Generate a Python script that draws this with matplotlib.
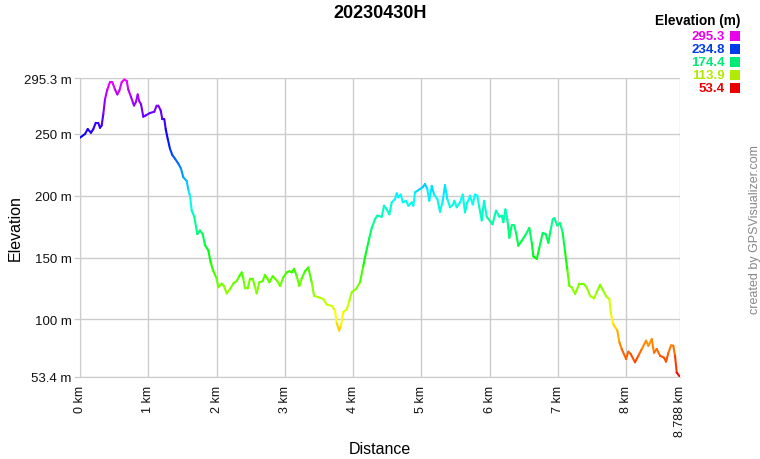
import numpy as np
import matplotlib
matplotlib.use("Agg")
import matplotlib.pyplot as plt
from matplotlib.collections import LineCollection
from matplotlib.colors import hsv_to_rgb

# distance along track (km) and elevation (m)
distance_km = [
    0.000, 0.073, 0.113, 0.161, 0.195, 0.230, 0.268, 0.293, 0.318, 0.341,
    0.366, 0.400, 0.439, 0.473, 0.513, 0.546, 0.576, 0.611, 0.649, 0.684,
    0.707, 0.747, 0.791, 0.820, 0.845, 0.864, 0.894, 0.927, 0.962, 1.025,
    1.088, 1.123, 1.147, 1.182, 1.206, 1.235, 1.255, 1.285, 1.318, 1.352,
    1.392, 1.440, 1.479, 1.513, 1.563, 1.586, 1.611, 1.636, 1.674, 1.718,
    1.758, 1.797, 1.831, 1.879, 1.914, 1.953, 2.002, 2.026, 2.076, 2.109,
    2.149, 2.197, 2.245, 2.295, 2.333, 2.369, 2.392, 2.417, 2.456, 2.490,
    2.530, 2.563, 2.588, 2.626, 2.676, 2.710, 2.744, 2.773, 2.823, 2.856,
    2.890, 2.930, 2.978, 3.028, 3.066, 3.101, 3.135, 3.174, 3.212, 3.247,
    3.296, 3.344, 3.394, 3.428, 3.491, 3.564, 3.614, 3.687, 3.735, 3.760,
    3.794, 3.823, 3.857, 3.907, 3.945, 3.980, 4.043, 4.101, 4.150, 4.189,
    4.238, 4.273, 4.321, 4.355, 4.419, 4.453, 4.493, 4.531, 4.566, 4.614,
    4.639, 4.662, 4.698, 4.727, 4.775, 4.809, 4.859, 4.882, 4.907, 4.941,
    4.980, 5.020, 5.053, 5.087, 5.116, 5.152, 5.185, 5.234, 5.273, 5.313,
    5.346, 5.380, 5.420, 5.459, 5.483, 5.518, 5.566, 5.606, 5.639, 5.673,
    5.713, 5.752, 5.786, 5.820, 5.844, 5.884, 5.918, 5.957, 6.042, 6.093,
    6.142, 6.177, 6.201, 6.230, 6.259, 6.288, 6.323, 6.361, 6.386, 6.420,
    6.470, 6.518, 6.581, 6.617, 6.640, 6.690, 6.728, 6.777, 6.821, 6.860,
    6.889, 6.924, 6.947, 6.991, 7.031, 7.070, 7.104, 7.138, 7.167, 7.202,
    7.251, 7.314, 7.372, 7.422, 7.470, 7.529, 7.568, 7.617, 7.656, 7.705,
    7.753, 7.778, 7.812, 7.870, 7.900, 7.935, 7.998, 8.031, 8.066, 8.129,
    8.178, 8.228, 8.291, 8.325, 8.374, 8.408, 8.447, 8.496, 8.555, 8.584,
    8.618, 8.657, 8.690, 8.715, 8.740, 8.788,
]
elevation_m = [
    247, 250, 254, 251, 254, 259, 259, 255, 257, 266,
    278, 286, 292, 292, 286, 282, 285, 292, 294, 293,
    286, 280, 273, 276, 282, 277, 274, 264, 265, 267,
    268, 273, 273, 269, 262, 262, 254, 246, 238, 233,
    230, 226, 222, 215, 212, 205, 200, 188, 183, 169,
    172, 169, 160, 156, 146, 139, 133, 126, 129, 127,
    121, 124.6, 129, 131, 135, 138, 133, 125, 125, 133,
    133, 126, 121, 130, 131, 136, 133, 130, 135, 133,
    131, 127, 134, 138, 139, 138, 141, 135, 127, 133,
    139, 142, 130, 119, 118, 116.5, 112, 111, 107, 97,
    91, 95, 106, 108, 115, 122, 124.6, 130, 143.5, 154,
    166, 174, 181, 184, 183, 192, 189, 185, 194.7, 197.4,
    202, 198.8, 201, 194.7, 196, 192, 194.7, 192, 202.8, 204,
    205.5, 207, 209.5, 205.5, 196, 208, 201, 197.4, 187, 196,
    208.7, 197.4, 190.7, 192.6, 196, 190.7, 194.7, 201, 186.6, 194.7,
    200, 193, 201, 200, 192, 180, 196, 183, 177, 188,
    183, 184, 178.6, 189, 181, 166, 176, 176, 170, 159.6,
    163.7, 167.7, 174, 162, 151, 148.9, 158, 170, 169, 162,
    171, 181, 182, 176, 178, 170, 155, 140, 127, 126,
    120.6, 129, 129, 126, 119, 117, 122, 128, 124, 118.7,
    116.5, 104, 96, 91, 81.5, 76, 68, 73.9, 72, 65.3,
    70.6, 76, 82.8, 78.7, 84, 73, 76, 70.6, 69, 65.8,
    73, 79, 78.7, 70.6, 57, 53.4,
]

elev_min = 53.4
elev_max = 295.3
total_km = 8.788
y_ticks = [53.4, 100, 150, 200, 250, 295.3]
y_labels = ["53.4 m", "100 m", "150 m", "200 m", "250 m", "295.3 m"]
x_ticks = [0, 1, 2, 3, 4, 5, 6, 7, 8, 8.788]
x_labels = ["0 km", "1 km", "2 km", "3 km", "4 km", "5 km", "6 km", "7 km",
            "8 km", "8.788 km"]
legend_values = [295.3, 234.8, 174.4, 113.9, 53.4]


def elev_color(e):
    # hue runs from red (lowest) to magenta (highest)
    frac = (e - elev_min) / (elev_max - elev_min)
    return hsv_to_rgb([frac * 300 / 360, 1.0, 1.0])


plt.rcParams.update({
    "font.family": ["Liberation Sans", "DejaVu Sans"],
    "font.size": 9,
})

fig = plt.figure(figsize=(7.6, 4.6), dpi=100)
ax = fig.add_axes([80 / 760, 82 / 460, 600 / 760, 299 / 460])

x = np.array(distance_km)
y = np.array(elevation_m)
pts = np.column_stack([x, y]).reshape(-1, 1, 2)
segs = np.concatenate([pts[:-1], pts[1:]], axis=1)
seg_colors = [elev_color((a + b) / 2) for a, b in zip(y[:-1], y[1:])]
lc = LineCollection(segs, colors=seg_colors, linewidths=1.5,
                    capstyle="round", joinstyle="round", zorder=3)
ax.add_collection(lc)

ax.set_xlim(0, total_km)
ax.set_ylim(elev_min, elev_max)
ax.set_xticks(x_ticks)
ax.set_xticklabels(x_labels, rotation=90, fontsize=9)
ax.set_yticks(y_ticks)
ax.set_yticklabels(y_labels, fontsize=9.5)
ax.grid(True, color="#cccccc", linewidth=1)
ax.set_axisbelow(True)
for side in ["top", "right"]:
    ax.spines[side].set_visible(False)
for side in ["left", "bottom"]:
    ax.spines[side].set_color("#cccccc")
ax.tick_params(axis="y", direction="out", length=4, width=1,
               color="#cccccc", labelcolor="#111111", pad=2)
ax.tick_params(axis="x", length=0, labelcolor="#111111", pad=6)

ax.set_xlabel("Distance", fontsize=11.5, va="center")
ax.xaxis.set_label_coords(0.5, (378 - 450) / 299)
ax.set_ylabel("Elevation", fontsize=11.5, va="center")
ax.yaxis.set_label_coords((15 - 80) / 600, 0.5)
fig.text(0.5, 1 - 14 / 460, "20230430H", ha="center", va="center",
         fontsize=13, fontweight="bold")

# colour legend at top right
fig.text(740 / 760, 1 - 21 / 460, "Elevation (m)", ha="right", va="center",
         fontsize=9.8, fontweight="bold")
for i, val in enumerate(legend_values):
    yy = 1 - (37 + i * 13) / 460
    c = elev_color(val)
    fig.text(725 / 760, yy, f"{val:.1f}", ha="right", va="center",
             fontsize=9.5, fontweight="bold", color=c * 0.92)
    fig.patches.append(plt.Rectangle((730 / 760, yy - 5 / 460), 10 / 760,
                                     10 / 460, transform=fig.transFigure,
                                     facecolor=c * 0.92, edgecolor="none"))

fig.text(755 / 760, 1 - 230 / 460, "created by GPSVisualizer.com",
         rotation=90, ha="center", va="center", fontsize=9, color="#888888")

fig.savefig("out.png", dpi=100)
